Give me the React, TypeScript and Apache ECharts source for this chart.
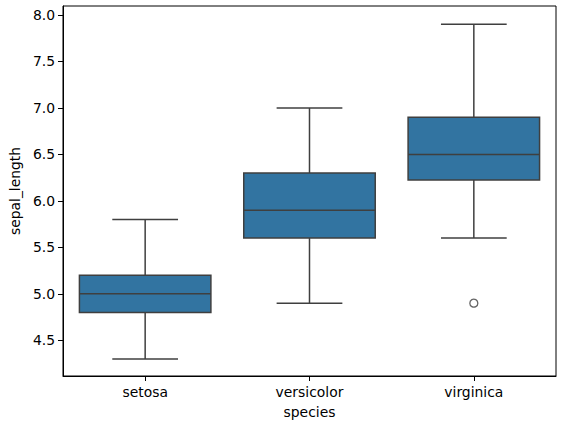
import { useEffect, useRef } from "react";
import * as echarts from "echarts";

// species on the x axis
const species = ["setosa", "versicolor", "virginica"];
// [whisker low, Q1, median, Q3, whisker high]
const setosaBox = [4.3, 4.8, 5.0, 5.2, 5.8];
const versicolorBox = [4.9, 5.6, 5.9, 6.3, 7.0];
const virginicaBox = [5.6, 6.225, 6.5, 6.9, 7.9];
// outliers: [species index, value]
const outliers = [[2, 4.9]];
const yTicks = [4.5, 5.0, 5.5, 6.0, 6.5, 7.0, 7.5, 8.0];

const BOX_FILL = "#3274a1";
const LINE = "#3f3f3f";
const FONT = "DejaVu Sans";

export default function App() {
    const chartRef = useRef<HTMLDivElement>(null);

    useEffect(() => {
        document.body.style.margin = "0";
        if (!chartRef.current) return;
        const chart = echarts.init(chartRef.current, null, { renderer: "svg" });

        const boxes = [setosaBox, versicolorBox, virginicaBox].map((b, i) => [i, ...b]);

        chart.setOption({
            animation: false,
            grid: {
                left: 60,
                right: 7,
                top: 6,
                bottom: 50,
                show: true,
                borderColor: "#000",
                borderWidth: 1,
                backgroundColor: "#fff",
            },
            xAxis: {
                type: "category",
                data: species,
                boundaryGap: true,
                name: "species",
                nameLocation: "middle",
                nameGap: 29,
                nameTextStyle: { color: "#000", fontSize: 13.9, fontFamily: FONT },
                axisLine: { show: true, lineStyle: { color: "#000", width: 1 } },
                axisTick: { show: true, alignWithLabel: true, length: 5, lineStyle: { color: "#000" } },
                axisLabel: { color: "#000", fontSize: 13.9, fontFamily: FONT, margin: 9 },
                splitLine: { show: false },
            },
            yAxis: {
                type: "value",
                min: 4.116,
                max: 8.097,
                name: "sepal_length",
                nameLocation: "middle",
                nameGap: 36,
                nameTextStyle: { color: "#000", fontSize: 13.9, fontFamily: FONT },
                axisLine: { show: true, lineStyle: { color: "#000", width: 1 } },
                axisTick: { show: true, length: 5, customValues: yTicks, lineStyle: { color: "#000" } },
                axisLabel: {
                    color: "#000",
                    fontSize: 13.9,
                    fontFamily: FONT,
                    margin: 8,
                    customValues: yTicks,
                    formatter: (v: number) => v.toFixed(1),
                },
                splitLine: { show: false },
            },
            series: [
                {
                    type: "custom",
                    data: boxes,
                    encode: { x: 0, y: [1, 2, 3, 4, 5] },
                    renderItem: (_params: any, api: any) => {
                        const x = api.value(0);
                        const bw = api.size([1, 0])[0];
                        const half = bw * 0.4;
                        const capHalf = bw * 0.2;
                        const low = api.coord([x, api.value(1)]);
                        const q1 = api.coord([x, api.value(2)]);
                        const med = api.coord([x, api.value(3)]);
                        const q3 = api.coord([x, api.value(4)]);
                        const high = api.coord([x, api.value(5)]);
                        const cx = low[0];
                        const ls = { stroke: LINE, lineWidth: 1.5 };
                        return {
                            type: "group",
                            children: [
                                { type: "line", shape: { x1: cx, y1: q1[1], x2: cx, y2: low[1] }, style: ls },
                                { type: "line", shape: { x1: cx, y1: q3[1], x2: cx, y2: high[1] }, style: ls },
                                { type: "line", shape: { x1: cx - capHalf, y1: low[1], x2: cx + capHalf, y2: low[1] }, style: ls },
                                { type: "line", shape: { x1: cx - capHalf, y1: high[1], x2: cx + capHalf, y2: high[1] }, style: ls },
                                {
                                    type: "rect",
                                    shape: { x: cx - half, y: q3[1], width: half * 2, height: q1[1] - q3[1] },
                                    style: { fill: BOX_FILL, stroke: LINE, lineWidth: 1.5 },
                                },
                                { type: "line", shape: { x1: cx - half, y1: med[1], x2: cx + half, y2: med[1] }, style: ls },
                            ],
                        };
                    },
                },
                {
                    type: "scatter",
                    data: outliers,
                    symbol: "circle",
                    symbolSize: 8,
                    itemStyle: { color: "#fff", borderColor: LINE, borderWidth: 1.3 },
                },
            ],
        });

        return () => {
            chart.dispose();
        };
    }, []);

    return <div ref={chartRef} style={{ width: "563px", height: "426px" }} />;
}
